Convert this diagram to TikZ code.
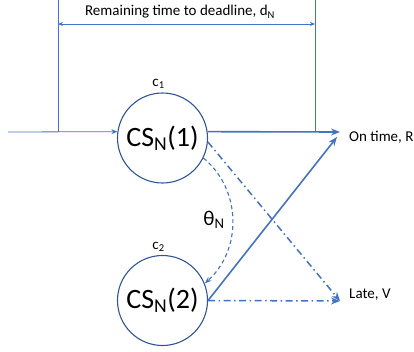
\documentclass[tikz,border=0pt]{standalone}
\usepackage{amsmath}
\usepackage{fontspec}
\setmainfont{Carlito}
\usetikzlibrary{arrows.meta,positioning}
\definecolor{lnblue}{RGB}{68,114,196}
\definecolor{rimblue}{RGB}{47,85,151}
\tikzset{
  csnode/.style={circle, draw=rimblue, line width=1.1pt, minimum size=90pt, inner sep=0pt, font=\fontsize{28}{30}\selectfont},
  dimln/.style={draw=lnblue, line width=0.8pt},
  thkln/.style={draw=lnblue, line width=1.6pt},
  dashdot/.style={draw=lnblue, line width=1.5pt, dash pattern=on 7pt off 3.5pt on 1.5pt off 3.5pt},
  dashln/.style={draw=lnblue, line width=1.1pt, dash pattern=on 4pt off 3pt},
  outlbl/.style={anchor=west, inner sep=0pt},
  >=Stealth
}

\begin{document}
\begin{tikzpicture}[x=1pt, y=-1pt, every node/.style={font=\fontsize{15}{17}\selectfont}]
  \useasboundingbox (0,0) rectangle (414,351);
  \node[csnode] (cs1) at (162.5,138) {CS$_\text{N}$(1)};
  \node[csnode] (cs2) at (162.5,300.5) {CS$_\text{N}$(2)};
  \node[above=0pt of cs1, xshift=-4pt] (c1) {c$_\text{1}$};
  \node[above=0pt of cs2, xshift=-4pt] (c2) {c$_\text{2}$};
  % deadline span
  \coordinate (dimL) at (58,0);
  \coordinate (dimR) at (315,0);
  \coordinate (dimA) at (58,24);
  \coordinate (dimB) at (315,24);
  \draw[dimln] (dimL) -- (dimL |- cs1.172);
  \draw[dimln] (dimR) -- (dimR |- cs1.8);
  \draw[dimln, {Stealth[length=5pt,width=4pt]}-{Stealth[length=5pt,width=4pt]}] (dimA) -- (dimB);
  \node (deadline) at (180,12) {Remaining time to deadline, d$_\text{N}$};
  % outcomes
  \coordinate (src) at (8,132);
  \coordinate (rtip) at (340,132);
  \coordinate (rtip2) at (337,137);
  \coordinate (vtip) at (340,301);
  \node[outlbl] (ontime) at (349,137) {On time, R};
  \node[outlbl] (late) at (349,295) {Late, V};
  \draw[dimln, -{Stealth[length=6pt,width=5pt]}] (src) -- (cs1.172);
  \draw[thkln, -{Stealth[length=9pt,width=7pt]}] (cs1.8) -- (rtip);
  \draw[thkln, -{Stealth[length=9pt,width=7pt]}] (cs2.east) -- (rtip2);
  \draw[dashdot, -{Stealth[length=9pt,width=7pt]}] (cs1.-5) -- (vtip);
  \draw[dashdot, -{Stealth[length=9pt,width=7pt]}] (cs2.east) -- (vtip);
  % switching
  \draw[dashln, -{Stealth[length=7pt,width=5pt]}] (cs1.-26) .. controls (242,190) and (242,250) .. (cs2.22);
  \node[font=\fontsize{21}{23}\selectfont] (theta) at (214,220) {θ$_\text{N}$};
\end{tikzpicture}
\end{document}
